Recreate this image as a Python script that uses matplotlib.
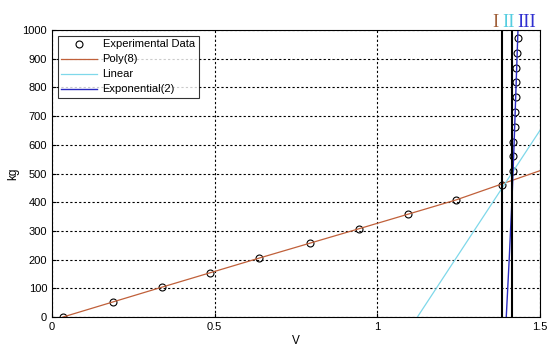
import numpy as np
import matplotlib.pyplot as plt

plt.rcParams['font.family'] = ['Liberation Sans', 'DejaVu Sans']

exp_v = [0.034, 0.187, 0.338, 0.487, 0.636, 0.794, 0.942, 1.095, 1.242, 1.383,
         1.417, 1.417, 1.417, 1.423, 1.423, 1.426, 1.426, 1.426, 1.429, 1.432]
exp_kg = [0, 52, 104, 153, 205, 258, 307, 359, 408, 460,
          509, 561, 610, 662, 714, 767, 819, 868, 920, 972]

# fitted curves
poly_v = [0.034, 0.338, 0.636, 0.942, 1.242, 1.5]
poly_kg = [0, 104, 205, 307, 408, 510]
lin_v = [1.123, 1.5]
lin_kg = [0, 651]
exp2_v = [1.396, 1.405, 1.414, 1.420, 1.426, 1.432]
exp2_kg = [0, 200, 420, 600, 800, 1000]

# region boundaries and labels
bounds = [1.383, 1.414]
region_labels = ["I", "II", "III"]
region_x = [1.362, 1.403, 1.459]
region_colors = ["#a0603a", "#55cde0", "#3030d0"]

fig = plt.figure(figsize=(5.5, 3.49), dpi=100)
ax = fig.add_axes([0.0945, 0.0917, 0.8875, 0.8223])

ax.plot(exp_v, exp_kg, 'o', mfc='none', mec='black', ms=5, mew=0.8,
        label='Experimental Data')
ax.plot(poly_v, poly_kg, '-', color='#c0603a', lw=0.9, label='Poly(8)')
ax.plot(lin_v, lin_kg, '-', color='#7fd8ea', lw=0.9, label='Linear')
ax.plot(exp2_v, exp2_kg, '-', color='#2a2ac0', lw=1.0, label='Exponential(2)')

for b in bounds:
    ax.axvline(b, color='black', lw=1.5)

for lab, xv, c in zip(region_labels, region_x, region_colors):
    ax.text(xv, 1012, lab, color=c, family='Liberation Serif', fontsize=13.5,
            ha='center', va='baseline')

ax.set_xlim(0, 1.5)
ax.set_ylim(0, 1000)
ax.set_xticks([0, 0.5, 1, 1.5])
ax.set_xticklabels(['0', '0.5', '1', '1.5'])
ax.set_yticks(np.arange(0, 1001, 100))
ax.grid(True, color='black', ls=(0, (2, 2)), lw=0.8)
ax.tick_params(labelsize=8, direction='in', length=3)
ax.set_xlabel('V', fontsize=8.5, labelpad=2)
ax.set_ylabel('kg', fontsize=8.5, labelpad=2)

leg = ax.legend(loc='upper left', fontsize=8, frameon=True, fancybox=False,
                edgecolor='black', borderaxespad=0.5, handlelength=3.2,
                labelspacing=0.45, borderpad=0.35, handletextpad=0.5)
leg.get_frame().set_linewidth(0.8)

fig.savefig('out.png', dpi=100)
